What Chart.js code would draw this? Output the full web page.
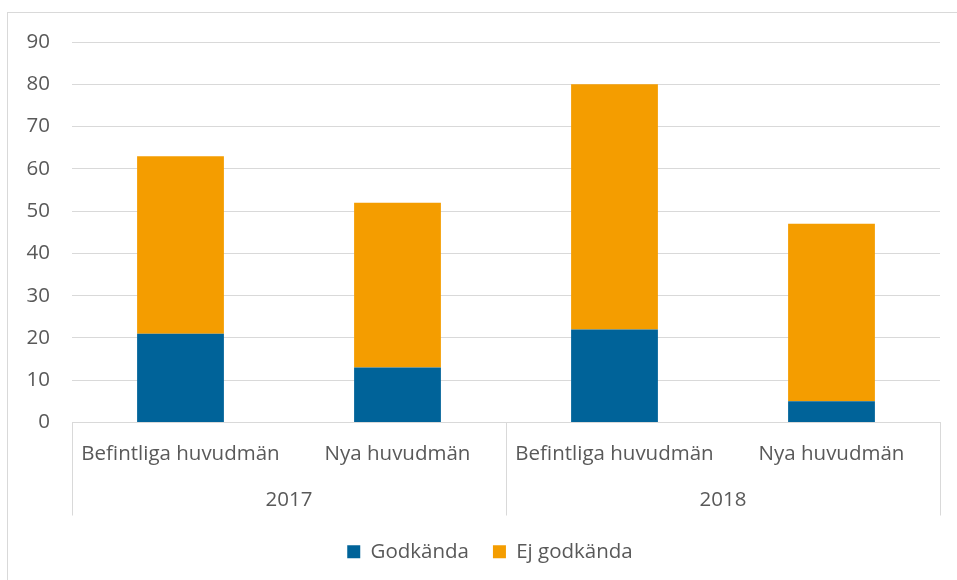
<!DOCTYPE html>
<html>
<head>
<meta charset="utf-8">
<script src="https://cdn.jsdelivr.net/npm/chart.js@4.4.1/dist/chart.umd.min.js"></script>
<style>
  html, body { margin: 0; padding: 0; background: #fff; overflow: hidden; }
  #wrap { position: relative; width: 957px; height: 580px; }
  #ram { position: absolute; left: 7px; top: 12px; width: 1000px; height: 700px; border: 1px solid #d9d9d9; }
  canvas { position: absolute; left: 0; top: 0; }
</style>
</head>
<body>
<div id="wrap">
  <div id="ram"></div>
  <canvas id="diagram" width="957" height="580"></canvas>
</div>
<script>
// data
const kategorier = ["Befintliga huvudmän", "Nya huvudmän", "Befintliga huvudmän", "Nya huvudmän"];
const ar = ["2017", "2018"];
const godkanda = [21, 13, 22, 5];
const ejGodkanda = [42, 39, 58, 42];

const BLA = "#006399";
const ORANGE = "#f49d00";
const GRID = "#d9d9d9";
const TEXT = "#595959";
const FONT = "'Open Sans', sans-serif";
const STORLEK = 20.5;

// vertikala avdelare i kategoriaxeln (som i Excel)
const gruppLinjer = {
  id: "gruppLinjer",
  afterLayout(chart) {
    // Excel centrerar legenden lite till höger
    chart.legend.left += 20;
    chart.legend.right += 20;
  },
  afterDraw(chart) {
    const x = chart.scales.x;
    const x2 = chart.scales.x2;
    const ctx = chart.ctx;
    const mitt = (x.getPixelForValue(1) + x.getPixelForValue(2)) / 2;
    ctx.save();
    ctx.strokeStyle = GRID;
    ctx.lineWidth = 1;
    [x.left, mitt, x.right].forEach(px => {
      const p = Math.round(px) + 0.5;
      ctx.beginPath();
      ctx.moveTo(p, x.top);
      ctx.lineTo(p, x2.bottom - 2);
      ctx.stroke();
    });
    ctx.restore();
  }
};

new Chart(document.getElementById("diagram"), {
  type: "bar",
  data: {
    labels: kategorier,
    datasets: [
      {
        label: "Godkända",
        data: godkanda,
        backgroundColor: BLA,
        categoryPercentage: 0.8,
        barPercentage: 0.5
      },
      {
        label: "Ej godkända",
        data: ejGodkanda,
        backgroundColor: ORANGE,
        categoryPercentage: 0.8,
        barPercentage: 0.5
      }
    ]
  },
  options: {
    responsive: false,
    animation: false,
    layout: { padding: { top: 42, right: 17, left: 0, bottom: 8 } },
    plugins: {
      legend: {
        position: "bottom",
        labels: {
          boxWidth: 13,
          boxHeight: 13,
          padding: 24,
          color: TEXT,
          font: { family: FONT, size: STORLEK }
        }
      },
      tooltip: { enabled: false }
    },
    scales: {
      x: {
        stacked: true,
        grid: { display: false },
        border: { display: true, color: GRID, width: 1 },
        ticks: {
          color: TEXT,
          padding: 11,
          maxRotation: 0,
          autoSkip: false,
          font: { family: FONT, size: STORLEK }
        },
        afterFit(scale) { scale.height = 55; }
      },
      x2: {
        type: "category",
        labels: ar,
        position: "bottom",
        offset: true,
        grid: { display: false },
        border: { display: false },
        ticks: {
          color: TEXT,
          padding: 2,
          maxRotation: 0,
          font: { family: FONT, size: STORLEK }
        },
        afterFit(scale) { scale.height = 40; }
      },
      y: {
        stacked: true,
        min: 0,
        max: 90,
        grid: { color: GRID, lineWidth: 1, drawTicks: false },
        border: { display: false },
        ticks: {
          stepSize: 10,
          color: TEXT,
          padding: 22,
          font: { family: FONT, size: STORLEK }
        },
        afterFit(scale) { scale.width = 72; }
      }
    }
  },
  plugins: [gruppLinjer]
});
</script>
</body>
</html>
